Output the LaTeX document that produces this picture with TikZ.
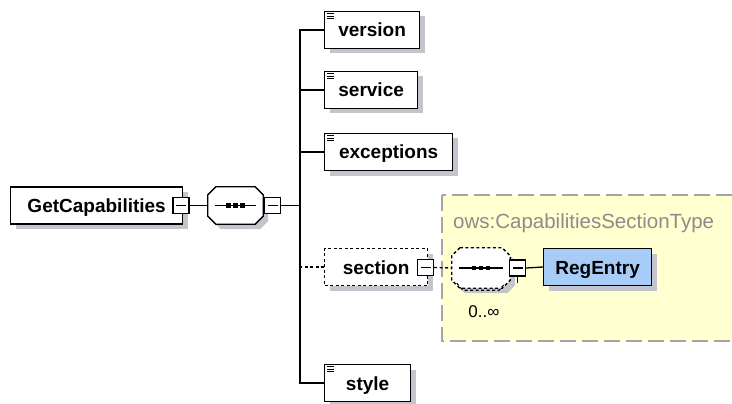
\documentclass[tikz,border=0pt]{standalone}
\usepackage{fontspec}
\setmainfont{Liberation Sans}
\usetikzlibrary{shadows,calc}
\definecolor{shadowc}{RGB}{196,196,204}
\definecolor{yellowbg}{RGB}{255,255,208}
\definecolor{boxgray}{RGB}{165,165,165}
\definecolor{titlegray}{RGB}{140,140,140}
\definecolor{regblue}{RGB}{168,204,248}
\newcommand\octa[2]{\path[#2] ($(#1.north west)+(8,0)$) -- ($(#1.north east)+(-8,0)$) -- ($(#1.north east)+(0,8)$) -- ($(#1.south east)+(0,-8)$) -- ($(#1.south east)+(-8,0)$) -- ($(#1.south west)+(8,0)$) -- ($(#1.south west)+(0,-8)$) -- ($(#1.north west)+(0,8)$) -- cycle;}
\newcommand\seqsym[1]{\draw[line width=1.3pt] ($(#1.west)+(7,0)$) -- ($(#1.east)+(-7,0)$);
  \foreach \dx in {-7,0,7} \fill ($(#1.center)+(\dx,0)$) +(-2.4,-2.4) rectangle +(2.4,2.4);}
\newcommand\docicon[1]{\foreach \dy in {3,5.2,7.4} \draw[line width=0.9pt] ($(#1.north west)+(3,\dy)$) -- ++(7,0);}
\tikzset{
  shad/.style={drop shadow={shadow xshift=5pt,shadow yshift=-5pt,opacity=1,fill=shadowc}},
  elem/.style={draw=black,line width=1.3pt,fill=white,shad,rectangle,minimum height=37pt,inner sep=0pt,
    font=\fontsize{19}{22}\selectfont\bfseries,text height=14pt,text depth=0pt,anchor=west},
  minusbox/.style={draw=black,line width=1.3pt,fill=white,minimum size=16pt,inner sep=0pt,
    path picture={\draw[line width=1.3pt] ([xshift=3pt]path picture bounding box.west) -- ([xshift=-3pt]path picture bounding box.east);}},
  seqnode/.style={draw=none,inner sep=0pt,minimum width=55pt,minimum height=37pt},
  conn/.style={line width=1.3pt,black},
  dashb/.style={dash pattern=on 3pt off 2.5pt}
}
\begin{document}
\begin{tikzpicture}[x=1pt,y=-1pt]
\useasboundingbox (0,0) rectangle (732,404);
\clip (0,0) rectangle (732,404);
% yellow type area
\draw[fill=yellowbg,draw=boxgray,line width=1.5pt,dash pattern=on 16pt off 6pt] (442,195) rectangle (760,341);
\node[anchor=base west,text=titlegray,font=\fontsize{20.5}{23}\selectfont,inner sep=0pt] (title) at (453,228) {ows:CapabilitiesSectionType};
% root
\node[elem,minimum width=172pt] (gc) at (10,205.5) {GetCapabilities};
\node[minusbox] (gcm) at (181,205.5) {};
\node[seqnode] (seq) at (235.5,205.5) {};
\octa{seq}{draw=black,line width=1.3pt,fill=white,shad}
\seqsym{seq}
\node[minusbox] (seqm) at (272.5,205.5) {};
% children
\node[elem,minimum width=95pt] (version) at (324,30) {version};
\node[elem,minimum width=93pt] (service) at (324,90) {service};
\node[elem,minimum width=128pt] (exceptions) at (324,152) {exceptions};
\node[elem,minimum width=103pt,dashb] (section) at (324,267) {section};
\node[elem,minimum width=86pt] (style) at (324,383) {style};
\docicon{version}\docicon{service}\docicon{exceptions}\docicon{style}
\node[minusbox] (secm) at (425.5,267.5) {};
% inner sequence
\node[seqnode,minimum width=58pt,minimum height=40pt] (seqb) at (481,268) {};
\octa{seqb}{draw=black,line width=1.3pt,fill=white,shad,dashb}
\draw[line width=1.1pt,dashb] ($(seqb.south west)+(5,-5)$) -- ($(seqb.south west)+(11,2)$) -- ($(seqb.south east)+(-11,2)$) -- ($(seqb.south east)+(-5,-5)$);
\seqsym{seqb}
\node[minusbox] (seqbm) at (517.5,268) {};
\node[font=\fontsize{17}{19}\selectfont,inner sep=0pt] (mult) at (484,312) {0..∞};
\node[elem,minimum width=108pt,fill=regblue] (reg) at (543,267) {RegEntry};
% connectors
\coordinate (trunk) at (300,205.5);
\draw[conn] (gcm.east) -- (seq.west);
\draw[conn] (seqm.east) -- (trunk);
\draw[conn] (version.west) -- (version.west -| trunk) |- (style.west);
\draw[conn] (service.west) -- (service.west -| trunk);
\draw[conn] (exceptions.west) -- (exceptions.west -| trunk);
\draw[conn,dashb] (section.west) -- (section.west -| trunk);
\draw[conn,dashb] (secm.east) -- (seqb.west);
\draw[conn] (seqbm.east) -- (reg.west);
\draw[conn] (seqbm.south) -- ++(0,6);
\end{tikzpicture}
\end{document}
